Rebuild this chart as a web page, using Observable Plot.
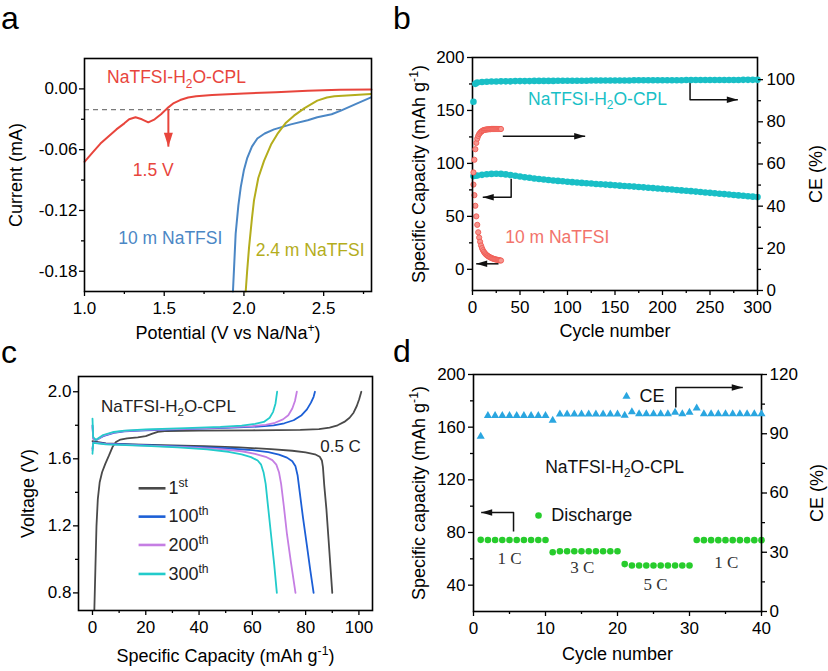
<!DOCTYPE html>
<html><head><meta charset="utf-8">
<script src="https://cdn.jsdelivr.net/npm/d3@7"></script>
<script src="https://cdn.jsdelivr.net/npm/@observablehq/plot@0.6"></script>
<style>
body{margin:0;background:#fff}
#fig{position:relative;width:828px;height:671px;overflow:hidden;background:#fff;font-family:'Liberation Sans',Arial,sans-serif}
.lab{position:absolute;font-size:32px;line-height:normal;color:#000}
</style></head><body><div id="fig"></div>
<script>
// ================= DATA =================
// Panel a: LSV curves (Potential V vs Na/Na+, Current mA)
const aCplV = [1.00,1.05,1.10,1.15,1.20,1.25,1.28,1.32,1.36,1.40,1.44,1.48,1.52,1.56,1.60,1.65,1.70,1.80,1.90,2.00,2.20,2.40,2.60,2.80];
const aCplI = [-0.072,-0.063,-0.054,-0.047,-0.040,-0.034,-0.030,-0.028,-0.030,-0.033,-0.030,-0.025,-0.019,-0.014,-0.011,-0.0085,-0.0072,-0.0060,-0.0052,-0.0045,-0.0032,-0.0018,-0.0009,-0.0006];
const a10mV = [1.931,1.940,1.948,1.965,1.980,2.000,2.021,2.050,2.084,2.130,2.189,2.294,2.400,2.460,2.550,2.608,2.700,2.797];
const a10mI = [-0.200,-0.170,-0.143,-0.115,-0.097,-0.080,-0.068,-0.057,-0.049,-0.044,-0.040,-0.035,-0.031,-0.028,-0.025,-0.0214,-0.015,-0.0083];
const a24mV = [2.011,2.020,2.032,2.050,2.063,2.090,2.126,2.170,2.210,2.260,2.314,2.380,2.460,2.520,2.567,2.671,2.797];
const a24mI = [-0.200,-0.180,-0.1565,-0.128,-0.110,-0.088,-0.071,-0.055,-0.0445,-0.034,-0.0264,-0.019,-0.0116,-0.0085,-0.0073,-0.0063,-0.005];
const aDashI = [-0.0205];
const aDashV = [1.0, 2.62];
const aArrow = [[1.526,-0.0205],[1.526,-0.057]];
const aXTicks = [1.0,1.5,2.0,2.5], aXMinor = [1.25,1.75,2.25,2.75];
const aYTicks = [0,-0.06,-0.12,-0.18], aYMinor = [-0.03,-0.09,-0.15];

// Panel b: cycling at 0.5 C
const bCplCycle = [1,3,5,10,15,20,25,30,35,40,45,50,55,60,65,70,75,80,85,90,95,100,105,110,115,120,125,130,135,140,145,150,155,160,165,170,175,180,185,190,195,200,205,210,215,220,225,230,235,240,245,250,255,260,265,270,275,280,285,290,295,300];
const bCplCap = [88.0,88.3,88.6,89.2,89.7,90.1,90.3,90.1,89.6,89.0,88.3,87.6,87.0,86.4,85.8,85.3,84.8,84.3,83.9,83.5,83.1,82.7,82.3,82.0,81.6,81.3,81.0,80.6,80.3,80.0,79.7,79.4,79.0,78.7,78.4,78.1,77.7,77.4,77.0,76.7,76.3,76.0,75.6,75.3,74.9,74.5,74.2,73.8,73.4,73.0,72.6,72.2,71.8,71.4,71.0,70.6,70.2,69.8,69.4,69.0,68.6,68.2];
const bCplCE = [89.5,98.0,98.6,98.9,99.0,99.1,99.1,99.2,99.2,99.2,99.3,99.3,99.3,99.3,99.4,99.4,99.4,99.4,99.4,99.5,99.5,99.5,99.5,99.5,99.5,99.5,99.6,99.6,99.6,99.6,99.6,99.6,99.6,99.6,99.6,99.7,99.7,99.7,99.7,99.7,99.7,99.7,99.7,99.7,99.7,99.7,99.8,99.8,99.8,99.8,99.8,99.8,99.8,99.8,99.8,99.8,99.8,99.8,99.9,99.9,99.9,99.9];
const bRedCycle = [1,2,3,4,5,6,7,8,9,10,11,12,13,14,15,16,17,18,19,20,21,22,23,24,25,26,27,28,29,30];
const bRedCap = [80,70,60,50,42,35,30,26,22.5,20,18,16.5,15.2,14.2,13.4,12.7,12.1,11.6,11.1,10.7,10.3,10.0,9.7,9.4,9.2,9.0,8.8,8.6,8.4,8.3];
const bRedCE = [56,62,67,70,72,73.3,74.2,74.8,75.3,75.6,75.9,76.1,76.2,76.3,76.4,76.4,76.5,76.5,76.5,76.6,76.6,76.6,76.6,76.6,76.6,76.6,76.6,76.6,76.6,76.6];
const bArrows = [
  {path:[[229,178.5],[229,160.1],[279.3,160.1]], dir:0},
  {path:[[31.9,125.7],[118.6,125.7]], dir:0},
  {path:[[40.7,85.5],[40.7,68.1],[10.8,68.1]], dir:180},
  {path:[[27.4,5.2],[3.9,5.2]], dir:180}
];
const bXTicks = [0,50,100,150,200,250,300], bXMinor = [25,75,125,175,225,275];
const bYTicks = [0,50,100,150,200], bYMinor = [25,75,125,175];
const bRTicks = [0,20,40,60,80,100], bRMinor = [10,30,50,70,90];

// Panel c: charge/discharge profiles [capacity mAh/g, voltage V]
const c1Charge = [[0.7,0.70],[1.1,0.95],[1.5,1.20],[2.0,1.36],[2.7,1.46],[3.6,1.52],[4.8,1.57],[6.2,1.62],[7.5,1.67],[8.8,1.70],[10.5,1.715],[13,1.722],[17,1.728],[20,1.735],[22.5,1.750],[24.5,1.761],[28,1.766],[40,1.768],[60,1.770],[78,1.773],[85,1.777],[89,1.786],[92,1.800],[94.5,1.820],[96.5,1.845],[98,1.875],[99.2,1.915],[100.1,1.955],[100.9,2.0]];
const c1Discharge = [[0,1.705],[5,1.692],[15,1.686],[30,1.680],[42,1.676],[55,1.668],[67,1.658],[75,1.648],[80,1.638],[83.5,1.627],[85.3,1.612],[86.1,1.59],[86.5,1.55],[87,1.44],[87.8,1.30],[88.6,1.12],[89.3,0.96],[90,0.80]];
const c100Charge = [[0,1.80],[0.3,1.72],[1.5,1.712],[4,1.735],[8,1.755],[12,1.764],[20,1.770],[35,1.777],[50,1.784],[62,1.792],[68,1.800],[72,1.812],[75.5,1.83],[78.5,1.86],[80.5,1.895],[82,1.935],[83,1.97],[83.5,2.0]];
const c100Discharge = [[0,1.66],[0.3,1.698],[5,1.690],[20,1.682],[35,1.673],[50,1.663],[60,1.652],[66,1.640],[70,1.625],[73,1.607],[75,1.585],[76.2,1.555],[77,1.50],[77.8,1.40],[79,1.25],[80.5,1.08],[81.8,0.93],[83,0.80]];
const c200Charge = [[0,1.79],[0.3,1.72],[1.5,1.712],[4,1.738],[8,1.757],[12,1.766],[20,1.772],[35,1.779],[50,1.787],[60,1.795],[65,1.803],[68.5,1.815],[71.5,1.835],[73.5,1.86],[75,1.90],[76,1.945],[76.7,2.0]];
const c200Discharge = [[0,1.65],[0.3,1.697],[5,1.688],[20,1.679],[35,1.670],[48,1.658],[56,1.645],[61,1.630],[65,1.612],[67.5,1.592],[69,1.565],[70,1.52],[70.8,1.45],[71.8,1.32],[73,1.15],[74.5,0.98],[76.2,0.80]];
const c300Charge = [[0,1.84],[0.25,1.73],[1.2,1.712],[4,1.742],[8,1.760],[12,1.768],[20,1.775],[35,1.783],[48,1.790],[56,1.798],[61,1.808],[64.3,1.82],[66.5,1.845],[67.8,1.88],[68.7,1.93],[69.3,2.0]];
const c300Discharge = [[0,1.63],[0.25,1.695],[5,1.686],[20,1.677],[32,1.668],[43,1.656],[51,1.642],[56,1.627],[59.5,1.61],[62,1.59],[63.3,1.565],[64.2,1.52],[65,1.45],[65.8,1.33],[67,1.15],[68.2,0.97],[69.2,0.80]];
const cLegendLabels = ["1^{st}","100^{th}","200^{th}","300^{th}"];
const cLegendV = [1.424,1.255,1.086,0.913];
const cLegendCap = [17.3,27.4];
const cXTicks = [0,20,40,60,80,100], cXMinor = [10,30,50,70,90];
const cYTicks = [0.8,1.2,1.6,2.0], cYMinor = [1.0,1.4,1.8];

// Panel d: rate performance
const dCycle = [1,2,3,4,5,6,7,8,9,10,11,12,13,14,15,16,17,18,19,20,21,22,23,24,25,26,27,28,29,30,31,32,33,34,35,36,37,38,39,40];
const dCap = [74.4,74.3,74.3,74.3,74.3,74.3,74.3,74.3,74.3,74.3,65.0,65.8,65.8,65.8,65.8,65.8,65.8,65.8,65.8,65.8,56.0,54.9,54.9,54.9,54.9,54.9,54.9,54.9,54.9,54.9,74.3,74.2,74.2,74.2,74.2,74.2,74.2,74.2,74.2,74.2];
const dCE = [88.6,99.2,99.2,99.2,99.2,99.2,99.2,99.2,99.2,99.2,96.7,99.9,99.9,99.9,99.9,99.9,99.9,99.9,99.9,99.9,99.3,101.0,100.0,100.0,100.0,100.0,100.0,100.8,100.0,100.8,102.9,100.0,100.0,100.0,100.0,100.0,100.0,100.0,100.0,100.0];
const dRateLabels = ["1 C","3 C","5 C","1 C"];
const dRateX = [5.0,15.1,25.3,35.1];
const dRateY = [60.3,53.4,40.5,57.2];
const dArrows = [
  {path:[[5.56,80.8],[5.56,95.2],[1.07,95.2]], dir:180},
  {path:[[28.1,174.9],[28.1,190.1],[37.4,190.1]], dir:0}
];
const dXTicks = [0,10,20,30,40], dXMinor = [5,15,25,35];
const dYTicks = [40,80,120,160,200], dYMinor = [60,100,140,180];
const dRTicks = [0,30,60,90,120], dRMinor = [15,45,75,105];

// ================= LAYOUT / STYLE =================
const W = 828, H = 671;
const FONT = "'Liberation Sans', Arial, Helvetica, sans-serif";
const SERIF = "'Liberation Serif', 'Times New Roman', serif";
const STYLE = `position:absolute;left:0;top:0;background:transparent;overflow:visible;font-family:${FONT};font-size:17px;color:#000;`;
const FA = {L:84, R:371, T:58, B:291};
const FB = {L:472, R:757, T:57, B:290};
const FC = {L:78, R:372, T:376, B:610};
const FD = {L:473, R:761, T:374, B:611};

const headSmall = {draw(ctx){ctx.moveTo(0,0);ctx.lineTo(-11,-3.3);ctx.lineTo(-11,3.3);ctx.closePath();}};
const headBig = {draw(ctx){ctx.moveTo(0,0);ctx.lineTo(-14,-4.5);ctx.lineTo(-14,4.5);ctx.closePath();}};

const zip = (xs, ys) => xs.map((x, i) => [x, ys[i]]);
const X = d => d[0], Y = d => d[1];

function base(F, xd, yd, marks) {
  return Plot.plot({
    width: W, height: H,
    marginLeft: F.L, marginRight: W - F.R, marginTop: F.T, marginBottom: H - F.B,
    style: STYLE,
    x: {domain: xd, axis: null},
    y: {domain: yd, axis: null},
    marks
  });
}
function axX(maj, min, fmt) {
  return [
    Plot.axisX(maj, {anchor: "bottom", tickSize: 5, tickPadding: 5, tickFormat: fmt, fontSize: 17, label: null, strokeWidth: 1.3}),
    Plot.axisX(min, {anchor: "bottom", tickSize: 3, fill: "none", label: null, strokeWidth: 1.3})
  ];
}
function axY(maj, min, fmt, anchor, pad) {
  return [
    Plot.axisY(maj, {anchor, tickSize: 5, tickPadding: pad, tickFormat: fmt, fontSize: 17, label: null, strokeWidth: 1.3}),
    Plot.axisY(min, {anchor, tickSize: 3, fill: "none", label: null, strokeWidth: 1.3})
  ];
}
function arrow(a, color, head, sw) {
  return [
    Plot.line(a.path, {x: X, y: Y, stroke: color, strokeWidth: sw, strokeLinecap: "butt"}),
    Plot.dot([a.path[a.path.length - 1]], {x: X, y: Y, symbol: head, rotate: a.dir, fill: color, r: 4})
  ];
}
function label(str, o) {
  return Plot.text([str], {text: d => d, textAnchor: "middle", lineAnchor: "middle", ...o});
}
const frame = () => Plot.frame({stroke: "#000", strokeWidth: 1.6});

// ================= PANEL A =================
const cRed = "#e8453c", cBlueA = "#4b87c5", cOlive = "#b4ad1c";
const plotA = base(FA, [1.0, 2.8], [-0.2, 0.03], [
  Plot.ruleY(aDashI, {x1: aDashV[0], x2: aDashV[1], stroke: "#7a7a7a", strokeWidth: 1.4, strokeDasharray: "5,4"}),
  Plot.line(zip(a10mV, a10mI), {x: X, y: Y, stroke: cBlueA, strokeWidth: 2}),
  Plot.line(zip(a24mV, a24mI), {x: X, y: Y, stroke: cOlive, strokeWidth: 2}),
  Plot.line(zip(aCplV, aCplI), {x: X, y: Y, stroke: cRed, strokeWidth: 2}),
  ...arrow({path: aArrow, dir: 90}, cRed, headBig, 2),
  frame(),
  ...axX(aXTicks, aXMinor, d => d.toFixed(1)),
  ...axY(aYTicks, aYMinor, d => d.toFixed(2), "left", 2),
  label("NaTFSI-H_{2}O-CPL", {x: 1.577, y: 0.0112, fill: cRed, fontSize: 17.5}),
  label("1.5 V", {x: 1.431, y: -0.0807, fill: cRed, fontSize: 17.5}),
  label("10 m NaTFSI", {x: 1.538, y: -0.1478, fill: cBlueA, fontSize: 17.5}),
  label("2.4 m NaTFSI", {x: 2.415, y: -0.1596, fill: cOlive, fontSize: 17.5}),
  label("Current (mA)", {frameAnchor: "left", dx: -68, rotate: -90, fontSize: 18}),
  label("Potential (V vs Na/Na^{+})", {frameAnchor: "bottom", dy: 42, fontSize: 18})
]);

// ================= PANEL B =================
const cCyan = "#19bfc6", cSalmon = "#f2736b";
const plotB = base(FB, [0, 300], [-20, 200], [
  Plot.dot(zip(bCplCycle, bCplCap), {x: X, y: Y, r: 3.3, fill: cCyan}),
  Plot.dot(zip(bRedCycle, bRedCap), {x: X, y: Y, r: 2.6, fill: "#f7958f", stroke: "#ef5a52", strokeWidth: 0.9}),
  ...bArrows.flatMap(a => arrow(a, "#111", headSmall, 1.5)),
  frame(),
  ...axX(bXTicks, bXMinor, d => String(d)),
  ...axY(bYTicks, bYMinor, d => String(d), "left", 3),
  label("NaTFSI-H_{2}O-CPL", {x: 131.6, y: 160.6, fill: cCyan, fontSize: 17.5}),
  label("10 m NaTFSI", {x: 89.2, y: 29.8, fill: cSalmon, fontSize: 17.5}),
  label("Specific Capacity (mAh g^{-1})", {frameAnchor: "left", dx: -53, rotate: -90, fontSize: 18}),
  label("Cycle number", {frameAnchor: "bottom", dy: 41, fontSize: 18})
]);
const plotBR = base(FB, [0, 300], [0, 110.5], [
  Plot.dot(zip(bCplCycle, bCplCE), {x: X, y: Y, r: 3.3, fill: cCyan}),
  Plot.dot(zip(bRedCycle, bRedCE), {x: X, y: Y, r: 2.6, fill: "#f7958f", stroke: "#ef5a52", strokeWidth: 0.9}),
  ...axY(bRTicks, bRMinor, d => String(d), "right", 4),
  label("CE (%)", {frameAnchor: "right", dx: 59, rotate: -90, fontSize: 18})
]);

// ================= PANEL C =================
const cGrey = "#4a4a4a", cBlue = "#1c5fd6", cViolet = "#c57ee3", cTurq = "#22cbcb";
const cColors = [cGrey, cBlue, cViolet, cTurq];
const cSeries = [[c1Charge, c1Discharge], [c100Charge, c100Discharge], [c200Charge, c200Discharge], [c300Charge, c300Discharge]];
const plotC = base(FC, [-5.25, 105.1], [0.695, 2.091], [
  ...cSeries.flatMap((s, i) => s.map(curve => Plot.line(curve, {x: X, y: Y, stroke: cColors[i], strokeWidth: 1.8}))),
  ...cLegendV.map((v, i) => Plot.link([v], {x1: () => cLegendCap[0], x2: () => cLegendCap[1], y1: d => d, y2: d => d, stroke: cColors[i], strokeWidth: 2.6})),
  ...cLegendLabels.map((t, i) => label(t, {x: 28.5, y: cLegendV[i], textAnchor: "start", fill: "#222", fontSize: 18})),
  frame(),
  ...axX(cXTicks, cXMinor, d => String(d)),
  ...axY(cYTicks, cYMinor, d => d.toFixed(1), "left", 2),
  label("NaTFSI-H_{2}O-CPL", {x: 28.5, y: 1.912, fill: "#222", fontSize: 17}),
  label("0.5 C", {x: 93.1, y: 1.672, fill: "#222", fontSize: 17}),
  label("Voltage (V)", {frameAnchor: "left", dx: -50, rotate: -90, fontSize: 18}),
  label("Specific Capacity (mAh g^{-1})", {frameAnchor: "bottom", dy: 46, fontSize: 18})
]);

// ================= PANEL D =================
const cTri = "#2aa6e0", cGreen = "#27cc2c";
const plotD = base(FD, [0, 40], [20, 200], [
  Plot.dot(zip(dCycle, dCap), {x: X, y: Y, r: 3.3, fill: cGreen}),
  ...dArrows.flatMap(a => arrow(a, "#111", headSmall, 1.5)),
  Plot.dot([[21.25, 183.3]], {x: X, y: Y, symbol: "triangle", r: 3, fill: cTri}),
  Plot.dot([[9.03, 92.9]], {x: X, y: Y, r: 3.3, fill: cGreen}),
  label("CE", {x: 23.06, y: 183.3, textAnchor: "start", fill: "#111", fontSize: 18}),
  label("Discharge", {x: 10.8, y: 92.9, textAnchor: "start", fill: "#111", fontSize: 18}),
  label("NaTFSI-H_{2}O-CPL", {x: 19.6, y: 129.4, fill: "#111", fontSize: 17.5}),
  ...dRateLabels.map((t, i) => label(t, {x: dRateX[i], y: dRateY[i], fill: "#333", fontSize: 17, fontFamily: SERIF})),
  frame(),
  ...axX(dXTicks, dXMinor, d => String(d)),
  ...axY(dYTicks, dYMinor, d => String(d), "left", 3),
  label("Specific capacity (mAh g^{-1})", {frameAnchor: "left", dx: -54, rotate: -90, fontSize: 18}),
  label("Cycle number", {frameAnchor: "bottom", dy: 42.5, fontSize: 18})
]);
const plotDR = base(FD, [0, 40], [0, 120], [
  Plot.dot(zip(dCycle, dCE), {x: X, y: Y, symbol: "triangle", r: 3, fill: cTri}),
  ...axY(dRTicks, dRMinor, d => String(d), "right", 3),
  label("CE (%)", {frameAnchor: "right", dx: 56, rotate: -90, fontSize: 18})
]);

// ================= MOUNT =================
const fig = document.getElementById("fig");
[plotA, plotB, plotBR, plotC, plotD, plotDR].forEach(p => fig.appendChild(p));
[["a", 1, 0], ["b", 393, 0], ["c", 1, 334], ["d", 393, 333]].forEach(([t, l, tp]) => {
  const el = document.createElement("div");
  el.className = "lab"; el.textContent = t;
  el.style.left = l + "px"; el.style.top = tp + "px";
  fig.appendChild(el);
});

// sub/superscript markup -> tspans
function richify(root) {
  const NS = "http://www.w3.org/2000/svg";
  root.querySelectorAll("text").forEach(t => {
    const s = t.textContent;
    if (!/[_^]\{/.test(s)) return;
    const fs = parseFloat(getComputedStyle(t).fontSize) || 17;
    while (t.firstChild) t.removeChild(t.firstChild);
    let shift = 0;
    const add = (str, kind) => {
      if (!str) return;
      const sp = document.createElementNS(NS, "tspan");
      const target = kind === "^" ? -0.40 * fs : kind === "_" ? 0.25 * fs : 0;
      if (target - shift !== 0) sp.setAttribute("dy", (target - shift).toFixed(2));
      shift = target;
      if (kind) sp.setAttribute("font-size", (0.68 * fs).toFixed(1));
      sp.textContent = str;
      t.appendChild(sp);
    };
    const re = /([_^])\{([^}]*)\}/g;
    let last = 0, m;
    while ((m = re.exec(s))) { add(s.slice(last, m.index), null); add(m[2], m[1]); last = re.lastIndex; }
    add(s.slice(last), null);
  });
}
richify(fig);
</script></body></html>
